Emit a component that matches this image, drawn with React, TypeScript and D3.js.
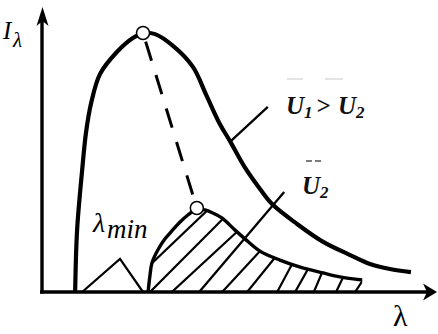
import React from "react";
import * as d3 from "d3";

// Spectral intensity curves I(λ) for two voltages U1 > U2
const lambdaU1 = [8.5, 9.0, 10.3, 11.3, 12.6, 14.9, 19.2, 23.3, 26.2, 29.0, 33.6, 38.7, 42.1, 45.6, 48.2, 52.1, 55.9, 59.0, 65.4, 72.1, 79.0, 84.1, 89.2, 94.6];
const intensityU1 = [0, 22.1, 43.6, 57.1, 67.5, 77.9, 85.7, 90.7, 92.5, 92.1, 87.9, 80.4, 70.4, 60.0, 53.9, 44.3, 36.8, 31.4, 24.3, 17.9, 13.2, 10.0, 8.2, 7.1];

const lambdaU2 = [27.2, 27.7, 28.2, 29.7, 31.5, 33.3, 35.4, 37.4, 39.7, 41.8, 43.8, 46.2, 49.5, 52.1, 55.9, 61.0, 66.2, 72.1, 76.4, 82.1];
const intensityU2 = [0, 6.1, 10.4, 15.0, 18.9, 21.8, 25.0, 27.5, 29.6, 29.3, 28.2, 26.4, 22.1, 18.9, 14.6, 11.4, 8.9, 6.8, 5.4, 4.3];

// Maxima of both curves (joined by the dashed displacement line)
const peakLambda = [25.9, 39.7];
const peakIntensity = [92.5, 30.0];

// Short-wavelength cutoff marker
const cutoffLambda = [10.3, 20.0, 25.9];
const cutoffIntensity = [0, 11.8, 0];

// Hatching under the U2 curve: start on the λ axis, end on the curve
const hatchStart = [20.5, 27.7, 33.3, 46.2, 52.6, 60.3, 64.9, 69.7, 75.4, 80.3];
const hatchEnd = [42.3, 46.4, 50.0, 55.9, 59.7, 64.1, 68.2, 71.8, 77.2, 82.3];

// Label leader lines
const leaderU2Lambda = [40.3, 62.1];
const leaderU2Intensity = [0, 35.7];
const leaderU1Lambda = [48.2, 57.9];
const leaderU1Intensity = [53.6, 66.1];

const W = 438;
const H = 334;

export default function App() {
  const x = d3.scaleLinear().domain([0, 100]).range([42, 432]);
  const y = d3.scaleLinear().domain([0, 100]).range([292, 12]);

  const curve = d3
    .line<[number, number]>()
    .x((d) => x(d[0]))
    .y((d) => y(d[1]))
    .curve(d3.curveCatmullRom.alpha(0.5));
  const straight = d3
    .line<[number, number]>()
    .x((d) => x(d[0]))
    .y((d) => y(d[1]));

  const u1: [number, number][] = lambdaU1.map((l, i) => [l, intensityU1[i]]);
  const u2: [number, number][] = lambdaU2.map((l, i) => [l, intensityU2[i]]);

  const areaU2 = d3
    .area<[number, number]>()
    .x((d) => x(d[0]))
    .y0(y(0))
    .y1((d) => y(d[1]))
    .curve(d3.curveCatmullRom.alpha(0.5));

  const u2At = d3.scaleLinear().domain(lambdaU2).range(intensityU2).clamp(true);

  const hatch = hatchStart.map((s, i) => {
    const e = hatchEnd[i];
    const x0 = x(s), y0 = y(0);
    const x1 = x(e), y1 = y(u2At(e));
    const dx = x1 - x0, dy = y1 - y0;
    const len = Math.hypot(dx, dy);
    const ext = 10;
    return {
      x1: x0 - (dx / len) * ext,
      y1: y0 - (dy / len) * ext,
      x2: x1 + (dx / len) * ext,
      y2: y1 + (dy / len) * ext,
    };
  });

  const peaks: [number, number][] = peakLambda.map((l, i) => [l, peakIntensity[i]]);
  const cutoff: [number, number][] = cutoffLambda.map((l, i) => [l, cutoffIntensity[i]]);

  const axisX0 = x(0) - 2;
  const axisY0 = y(0);
  const xTip = 437;
  const yTip = 7;

  const serif = "'Liberation Serif', 'Times New Roman', serif";

  return (
    <svg
      width={W}
      height={H}
      viewBox={`0 0 ${W} ${H}`}
      style={{ position: "absolute", left: 0, top: 0, background: "#fff" }}
    >
      <defs>
        <clipPath id="under-u2">
          <path d={areaU2(u2) ?? ""} />
        </clipPath>
      </defs>

      {/* axes */}
      <line x1={x(0)} y1={axisY0 + 1.5} x2={x(0)} y2={yTip + 12} stroke="#000" strokeWidth={3.4} />
      <path
        d={`M${x(0) + 0.5},${yTip} L${x(0) + 6.5},${yTip + 19} L${x(0) + 0.5},${yTip + 14} L${x(0) - 5.5},${yTip + 19} Z`}
        fill="#000"
      />
      <line x1={axisX0} y1={axisY0} x2={xTip - 10} y2={axisY0} stroke="#000" strokeWidth={3.6} />
      <path
        d={`M${xTip},${axisY0} L${xTip - 14},${axisY0 - 8.5} L${xTip - 10},${axisY0} L${xTip - 14},${axisY0 + 8.5} Z`}
        fill="#000"
      />

      {/* cutoff marker */}
      <path d={straight(cutoff) ?? ""} fill="none" stroke="#000" strokeWidth={2.2} strokeLinejoin="miter" />

      {/* hatching */}
      <g clipPath="url(#under-u2)">
        {hatch.map((h, i) => (
          <line key={i} x1={h.x1} y1={h.y1} x2={h.x2} y2={h.y2} stroke="#000" strokeWidth={2.2} />
        ))}
      </g>

      {/* leader lines */}
      <path
        d={straight(leaderU2Lambda.map((l, i) => [l, leaderU2Intensity[i]] as [number, number])) ?? ""}
        stroke="#000"
        strokeWidth={2.3}
        fill="none"
      />
      <path
        d={straight(leaderU1Lambda.map((l, i) => [l, leaderU1Intensity[i]] as [number, number])) ?? ""}
        stroke="#000"
        strokeWidth={2.3}
        fill="none"
      />

      {/* curves */}
      <path d={curve(u1) ?? ""} fill="none" stroke="#000" strokeWidth={4.2} />
      <path d={curve(u2) ?? ""} fill="none" stroke="#000" strokeWidth={3.4} />

      {/* displacement of the maximum */}
      <path
        d={straight(peaks) ?? ""}
        fill="none"
        stroke="#000"
        strokeWidth={3}
        strokeDasharray="20 15"
        strokeDashoffset={26}
      />
      {peaks.map((p, i) => (
        <circle key={i} cx={x(p[0])} cy={y(p[1])} r={6.5} fill="#fff" stroke="#000" strokeWidth={1.5} />
      ))}

      {/* axis labels */}
      <text x={3} y={39} fontFamily={serif} fontStyle="italic" fontSize={25}>
        I
      </text>
      <text x={13} y={47} fontFamily={serif} fontStyle="italic" fontSize={21}>
        λ
      </text>
      <text x={393} y={326} fontFamily={serif} fontSize={30}>
        λ
      </text>

      {/* cutoff label */}
      <text x={93} y={232} fontFamily={serif} fontStyle="italic" fontSize={28}>
        λ
      </text>
      <text x={107} y={238} fontFamily={serif} fontStyle="italic" fontSize={27}>
        min
      </text>

      {/* U1 > U2 */}
      <line x1={287} y1={79} x2={303} y2={79} stroke="#e4e4e4" strokeWidth={2} />
      <line x1={325} y1={79} x2={343} y2={79} stroke="#e4e4e4" strokeWidth={2} />
      <text fontFamily={serif} fontStyle="italic" fontWeight="bold" fill="#111">
        <tspan x={286} y={114} fontSize={25}>U</tspan>
        <tspan fontSize={17} dy={4}>1</tspan>
        <tspan x={316} y={114} fontSize={25}>{">"}</tspan>
        <tspan x={338} y={114} fontSize={25}>U</tspan>
        <tspan fontSize={17} dy={4}>2</tspan>
      </text>

      {/* U2 */}
      <line x1={306} y1={161} x2={312} y2={161} stroke="#444" strokeWidth={1.4} />
      <line x1={315} y1={161} x2={321} y2={161} stroke="#444" strokeWidth={1.4} />
      <text fontFamily={serif} fontStyle="italic" fontWeight="bold" fill="#111">
        <tspan x={302} y={194} fontSize={25}>U</tspan>
        <tspan fontSize={17} dy={4}>2</tspan>
      </text>
    </svg>
  );
}
